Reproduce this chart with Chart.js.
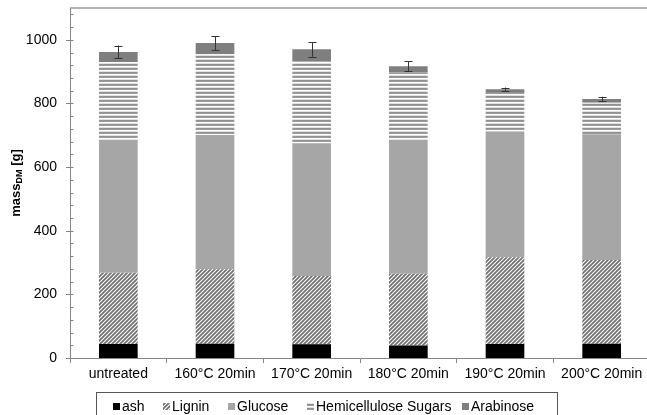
<!DOCTYPE html>
<html><head><meta charset="utf-8">
<script src="https://cdn.jsdelivr.net/npm/chart.js@4.4.0/dist/chart.umd.min.js"></script>
<style>html,body{margin:0;padding:0;overflow:hidden;background:#fff}#wrap{width:652px;height:415px;position:relative}</style>
</head><body><div id="wrap"><canvas id="c"></canvas></div>
<script>
const categories = ['untreated','160°C 20min','170°C 20min','180°C 20min','190°C 20min','200°C 20min'];
const ash = [44,45,43,39,44,45];
const lignin = [224,234,215,226,273,263];
const glucose = [417,422,417,420,395,395];
const hemicelluloseSugars = [245,254,257,212,124,99];
const arabinose = [32,35,38,20,9,12];
const totalError = [20,22,23,15,5,7];
const seriesNames = ['ash','Lignin','Glucose','Hemicellulose Sugars','Arabinose'];
const yTicks = [0,200,400,600,800,1000];

const FONT = "'Liberation Sans', Arial, sans-serif";
const AXIS = '#868686';

function hatchPattern() {
  const c = document.createElement('canvas'); c.width = 4; c.height = 4;
  const g = c.getContext('2d');
  g.fillStyle = '#fff'; g.fillRect(0,0,4,4);
  g.strokeStyle = '#6e6e6e'; g.lineWidth = 1.7;
  g.beginPath();
  g.moveTo(-1,5); g.lineTo(5,-1);
  g.moveTo(-1,1); g.lineTo(1,-1);
  g.moveTo(3,5); g.lineTo(5,3);
  g.stroke();
  return c;
}
function stripePattern() {
  const c = document.createElement('canvas'); c.width = 4; c.height = 4;
  const g = c.getContext('2d');
  const rows = ['#929292','#9c9c9c','#ffffff','#e2e2e2'];
  rows.forEach((col,i)=>{ g.fillStyle = col; g.fillRect(0,i,4,1); });
  return c;
}
const ctx0 = document.getElementById('c').getContext('2d');
const fills = [
  '#000000',
  ctx0.createPattern(hatchPattern(), 'repeat'),
  '#a6a6a6',
  ctx0.createPattern(stripePattern(), 'repeat'),
  '#7f7f7f'
];
const seriesData = [ash, lignin, glucose, hemicelluloseSugars, arabinose];

const extras = {
  id: 'extras',
  afterDraw(chart) {
    const {ctx, chartArea: ca, scales: {x, y}} = chart;
    ctx.save();
    // top frame line
    ctx.strokeStyle = '#9a9a9a'; ctx.lineWidth = 1.5;
    ctx.beginPath(); ctx.moveTo(ca.left, ca.top); ctx.lineTo(chart.width, ca.top); ctx.stroke();
    // y ticks: major crossing, minor inside
    ctx.strokeStyle = AXIS; ctx.lineWidth = 1;
    for (let v = 0; v <= y.max; v += 40) {
      const py = Math.round(y.getPixelForValue(v)) + 0.5;
      const major = v % 200 === 0;
      ctx.beginPath();
      ctx.moveTo(ca.left - (major ? 4 : 0), py);
      ctx.lineTo(ca.left + 3.5, py);
      ctx.stroke();
    }
    // error bars
    ctx.strokeStyle = '#333'; ctx.lineWidth = 1;
    const meta = chart.getDatasetMeta(seriesData.length - 1);
    categories.forEach((c, i) => {
      const tot = seriesData.reduce((s, arr) => s + arr[i], 0);
      const px = Math.round(meta.data[i].x) + 0.5;
      const y1 = y.getPixelForValue(tot + totalError[i]);
      const y2 = y.getPixelForValue(tot - totalError[i]);
      ctx.beginPath();
      ctx.moveTo(px, y1); ctx.lineTo(px, y2);
      ctx.moveTo(px - 4, Math.round(y1) + 0.5); ctx.lineTo(px + 4, Math.round(y1) + 0.5);
      ctx.moveTo(px - 4, Math.round(y2) + 0.5); ctx.lineTo(px + 4, Math.round(y2) + 0.5);
      ctx.stroke();
    });
    // y axis title: mass_DM [g]
    ctx.save();
    ctx.translate(16, (ca.top + ca.bottom) / 2);
    ctx.rotate(-Math.PI / 2);
    ctx.fillStyle = '#000';
    ctx.textBaseline = 'middle';
    const big = 'bold 13px ' + FONT, small = 'bold 9px ' + FONT;
    ctx.font = big; const w1 = ctx.measureText('mass').width; const w3 = ctx.measureText(' [g]').width;
    ctx.font = small; const w2 = ctx.measureText('DM').width;
    let sx = -(w1 + w2 + w3) / 2;
    ctx.textAlign = 'left';
    ctx.font = big; ctx.fillText('mass', sx, 0); sx += w1;
    ctx.font = small; ctx.fillText('DM', sx, 4); sx += w2;
    ctx.font = big; ctx.fillText(' [g]', sx, 0);
    ctx.restore();
    // legend box
    ctx.strokeStyle = '#555'; ctx.lineWidth = 1;
    ctx.strokeRect(96.5, 392.5, 461, 40);
    ctx.font = '14px ' + FONT; ctx.textBaseline = 'middle'; ctx.textAlign = 'left';
    const markX = [113, 163, 228, 307, 462];
    seriesNames.forEach((name, i) => {
      ctx.fillStyle = fills[i];
      ctx.fillRect(markX[i], 403, 7, 7);
      ctx.fillStyle = '#000';
      ctx.fillText(name, markX[i] + 9, 407);
    });
    ctx.restore();
  }
};

new Chart(ctx0, {
  type: 'bar',
  data: {
    labels: categories,
    datasets: seriesNames.map((n, i) => ({
      label: n, data: seriesData[i], backgroundColor: fills[i],
      barPercentage: 0.4, categoryPercentage: 1, borderWidth: 0
    }))
  },
  options: {
    responsive: true, maintainAspectRatio: false, animation: false,
    devicePixelRatio: 1,
    layout: { padding: { top: 8, left: 0, right: 2, bottom: 0 } },
    plugins: { legend: { display: false }, tooltip: { enabled: false } },
    scales: {
      x: {
        stacked: true,
        grid: { display: true, drawOnChartArea: false, tickLength: 5, color: AXIS, offset: true },
        border: { color: AXIS, width: 1 },
        ticks: { color: '#000', font: { family: FONT, size: 14 }, padding: 3, maxRotation: 0 },
        afterFit: s => { s.height = 57; s.paddingLeft = 0; s.paddingRight = 0; s.paddingTop = 0; s.paddingBottom = 0; }
      },
      y: {
        stacked: true, min: 0, max: 1100,
        afterBuildTicks: s => { s.ticks = yTicks.map(v => ({ value: v })); },
        grid: { display: false, drawTicks: false },
        border: { color: AXIS, width: 1 },
        ticks: { color: '#000', font: { family: FONT, size: 14 }, padding: 13, callback: v => String(v) },
        afterFit: s => { s.width = 70; s.paddingTop = 0; s.paddingBottom = 0; s.paddingLeft = 0; s.paddingRight = 0; }
      }
    }
  },
  plugins: [extras]
});
</script></body></html>
